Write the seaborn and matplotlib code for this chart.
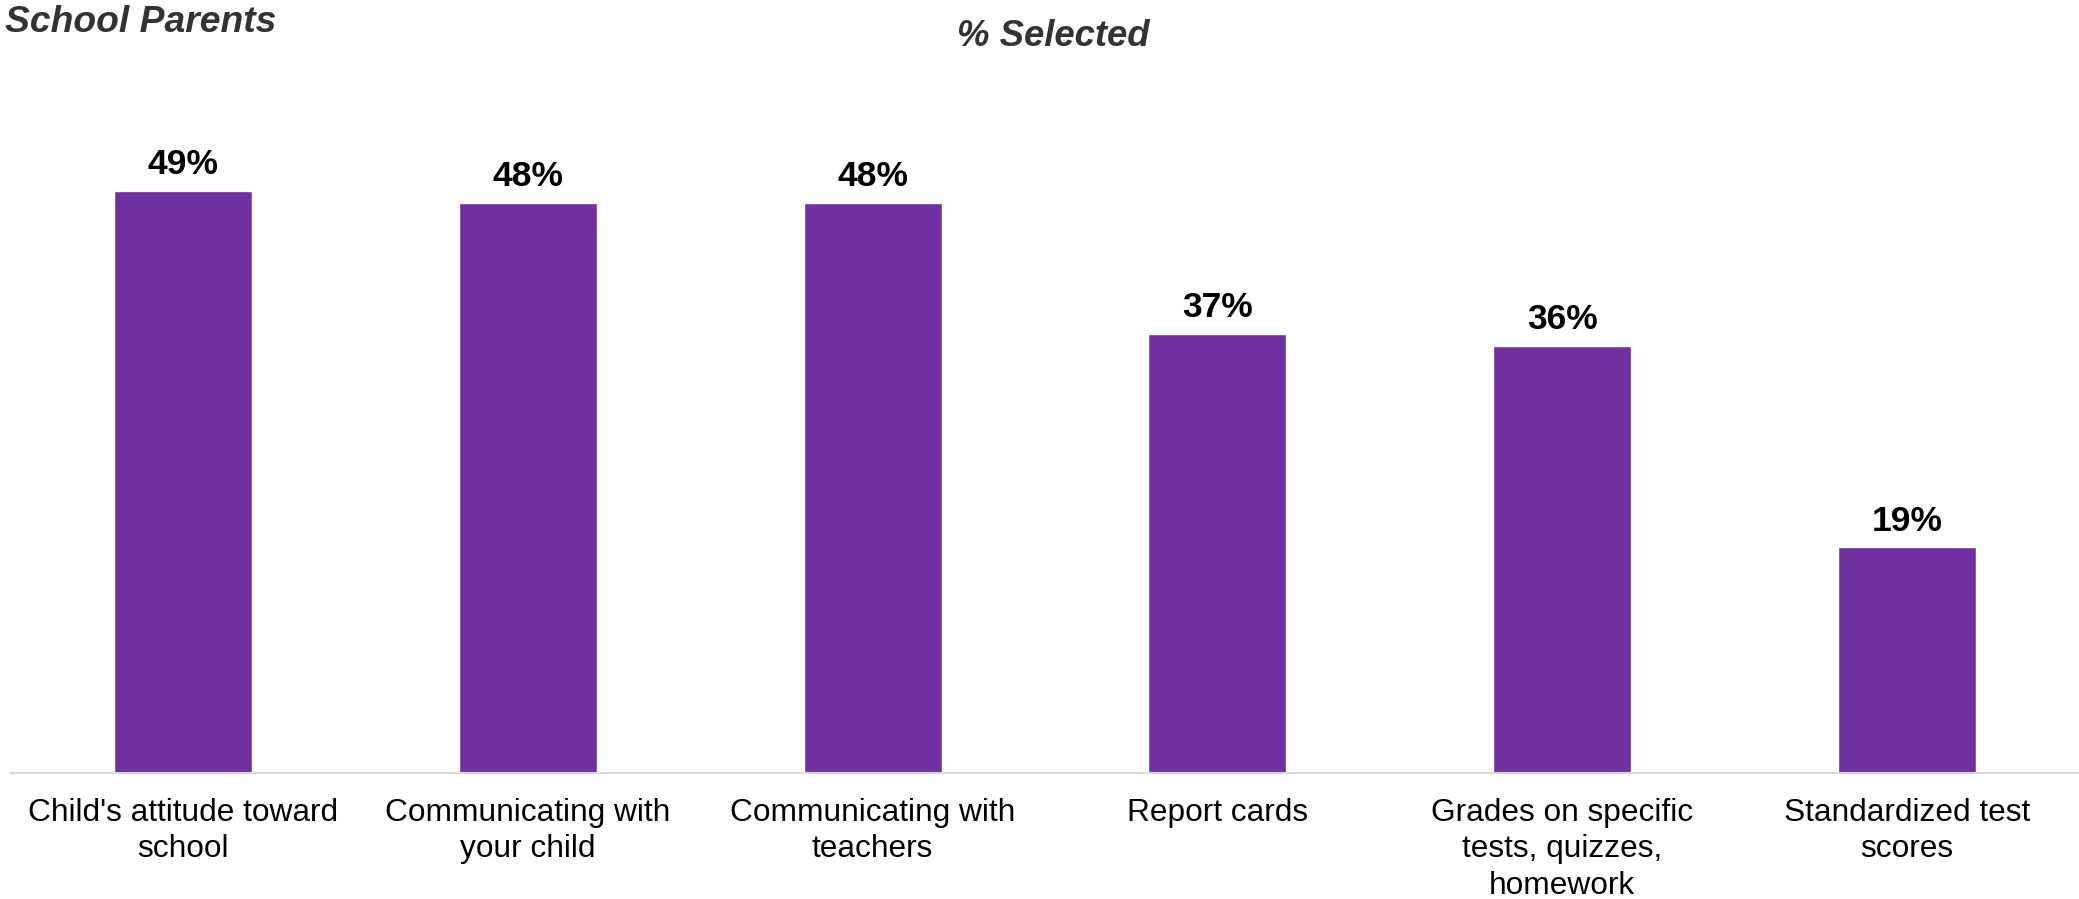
import matplotlib
matplotlib.use("Agg")
import matplotlib.pyplot as plt
import seaborn as sns
import pandas as pd

# Survey results: share of school parents selecting each item
categories = [
    "Child's attitude toward\nschool",
    "Communicating with\nyour child",
    "Communicating with\nteachers",
    "Report cards",
    "Grades on specific\ntests, quizzes,\nhomework",
    "Standardized test\nscores",
]
values = [49, 48, 48, 37, 36, 19]

chart_title = "School Parents"
axis_title = "% Selected"

bar_color = "#7030A0"
title_color = "#333333"

sns.set_style("white")
plt.rcParams["font.family"] = ["Liberation Sans", "DejaVu Sans"]

df = pd.DataFrame({"item": categories, "pct": values})

fig = plt.figure(figsize=(20.79, 8.99), dpi=100)
ax = fig.add_axes([10.5 / 2079, 126 / 899, 2069 / 2079, 773 / 899])

sns.barplot(data=df, x="item", y="pct", color=bar_color, saturation=1,
            width=0.4, ax=ax)

ax.set_xlim(-0.5, len(categories) - 0.5)
ax.set_ylim(0, 65.1)

ax.bar_label(ax.containers[0], fmt="{:.0f}%", padding=7,
             fontsize=25.5, fontweight="bold", color="black")

ax.set_xlabel("")
ax.set_ylabel("")
ax.set_yticks([])
ax.tick_params(axis="x", length=0, pad=18, labelsize=22.8, labelcolor="black")
for lbl in ax.get_xticklabels():
    lbl.set_linespacing(1.28)

for side in ("top", "left", "right"):
    ax.spines[side].set_visible(False)
ax.spines["bottom"].set_color("#d9d9d9")
ax.spines["bottom"].set_linewidth(1.5)

fig.text(5 / 2079, 1 - 22 / 899, chart_title, ha="left", va="center",
         fontsize=26.8, fontweight="bold", fontstyle="italic", color=title_color)
fig.text(1053 / 2079, 1 - 36 / 899, axis_title, ha="center", va="center",
         fontsize=26.3, fontweight="bold", fontstyle="italic", color=title_color)

fig.savefig("out.png", dpi=100, facecolor="white")
